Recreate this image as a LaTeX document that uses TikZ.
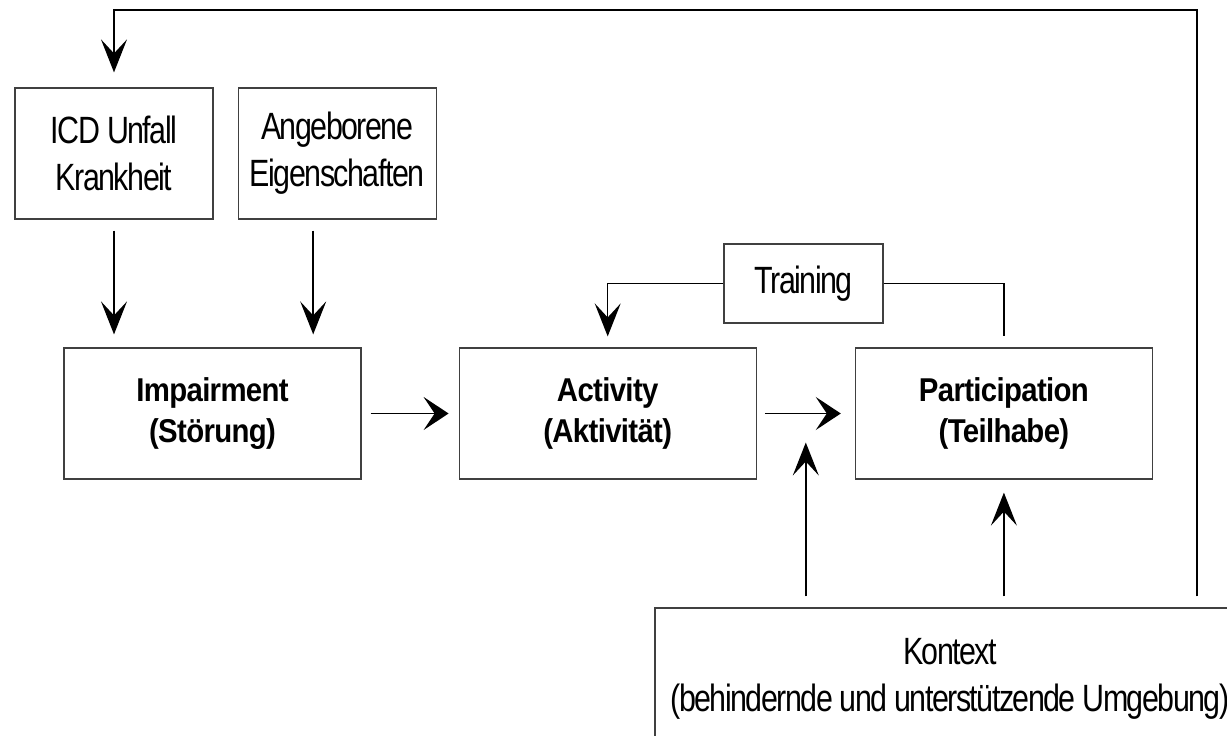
\documentclass[tikz,border=0pt]{standalone}
\usepackage{fontspec}
\usepackage{tikz}
\usetikzlibrary{positioning,arrows.meta,calc}
\newfontfamily\plainfont[FakeStretch=0.8,LetterSpace=-4]{Liberation Sans}
\newfontfamily\heavyfont[FakeStretch=0.89,LetterSpace=-2]{Liberation Sans}
\tikzset{
  box/.style={draw=black!75,line width=1.2pt,align=center,inner sep=0pt,
    font=\plainfont\fontsize{38}{47}\selectfont},
  big/.style={box,minimum width=297pt,minimum height=131pt,
    font=\heavyfont\bfseries\fontsize{33}{41}\selectfont},
  arr/.style={-{Stealth[length=33pt,width=26pt,inset=14pt]},line width=1.5pt},
  harr/.style={-{Stealth[length=25pt,width=33pt,inset=11pt]},line width=1.5pt},
  link/.style={line width=1.5pt},
}
\begin{document}
\begin{tikzpicture}[x=1pt,y=-1pt]
\useasboundingbox (0,0) rectangle (1227,736);
\clip (0,0) rectangle (1227,736);
% causes
\node[box,minimum width=198pt,minimum height=131pt] (icd) at (114,153.5) {ICD Unfall\\Krankheit};
\node[box,minimum width=198pt,minimum height=131pt,right=24pt of icd] (gen) {Angeborene\\Eigenschaften};
% main chain
\node[big] (imp) at (212.5,413.5) {Impairment\\(Störung)};
\node[big,right=97pt of imp] (act) {Activity\\(Aktivität)};
\node[big,right=98pt of act] (part) {Participation\\(Teilhabe)};
\node[box,minimum width=159pt,minimum height=79pt] (train) at (803.5,283.5) {Training};
\node[box,minimum width=590pt,minimum height=142pt] (ctx) at (950,679) {Kontext\\(behindernde und unterstützende Umgebung)};
\coordinate (back) at (1197,10);
\path (act.east) -- (part.west) coordinate[midway] (mid);

\draw[arr,shorten <=11pt,shorten >=15pt] (ctx.north -| back) -- (back) -| (icd.north);
\draw[arr,shorten <=11pt,shorten >=13pt] (icd.south) -- (icd.south |- imp.north);
\draw[arr,shorten <=11pt,shorten >=13pt] ([xshift=-24pt]gen.south) -- ([xshift=-24pt]gen.south |- imp.north);
\draw[harr,shorten <=9pt,shorten >=10pt] (imp) -- (act);
\draw[harr,shorten <=8pt,shorten >=14pt] (act) -- (part);
\draw[arr,shorten >=11pt] (train.west) -| (act.north);
\draw[link,shorten >=11pt] (train.east) -| (part.north);
\draw[arr,shorten <=11pt,shorten >=29pt] (ctx.north -| mid) -- (mid);
\draw[arr,shorten <=11pt,shorten >=13pt] (ctx.north -| part.south) -- (part.south);
\end{tikzpicture}
\end{document}
